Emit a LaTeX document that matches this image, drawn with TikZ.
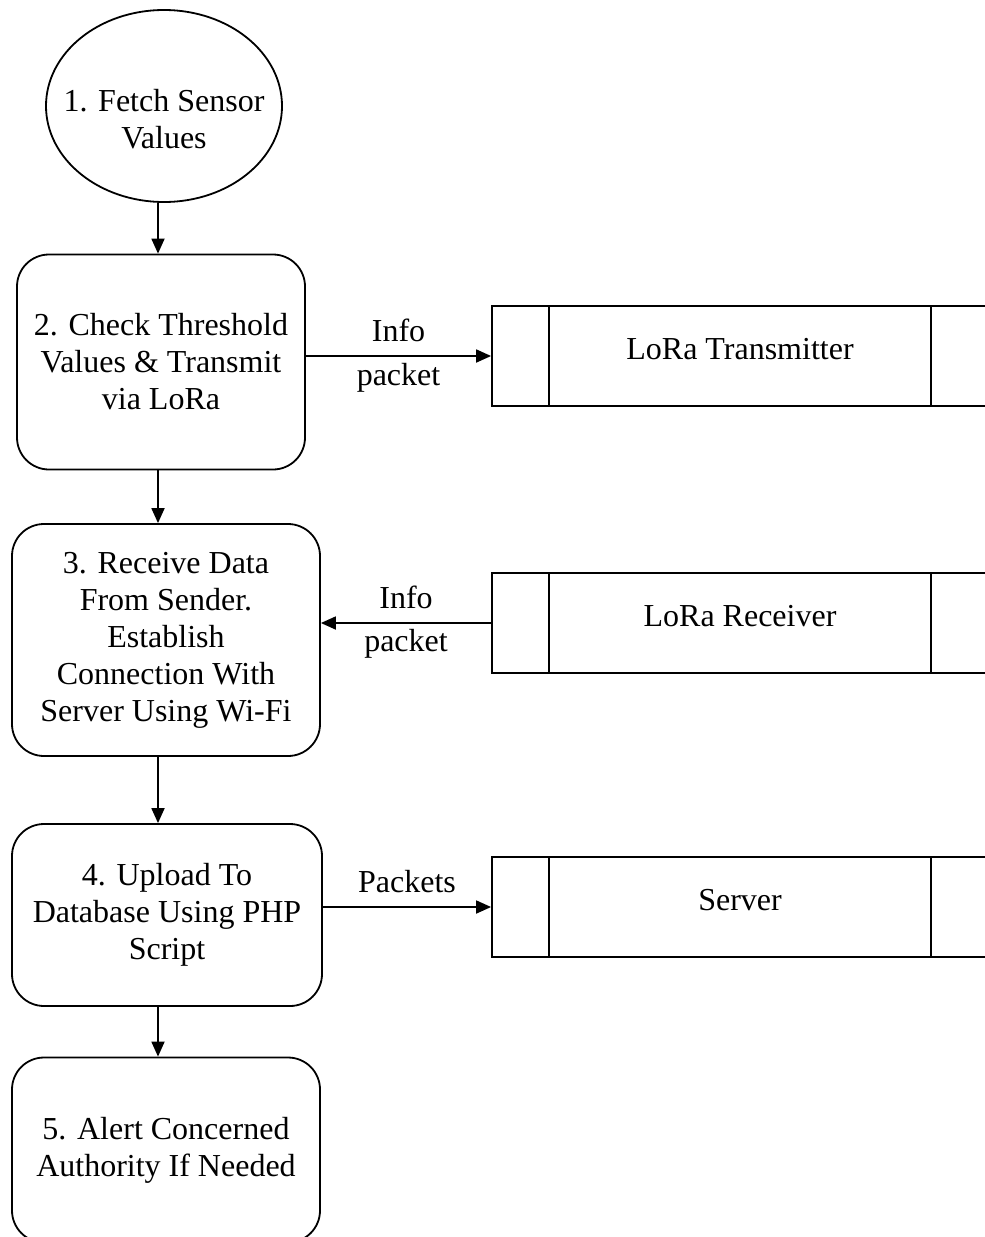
\documentclass[tikz,border=0pt]{standalone}
\usepackage{fontspec}
\setmainfont{Liberation Serif}
\usetikzlibrary{arrows.meta, shapes.geometric}

\begin{document}
\begin{tikzpicture}[
  x=1pt, y=-1pt,
  font=\fontsize{32}{37}\selectfont,
  startnode/.style={ellipse, draw, line width=1.8pt, minimum width=236pt, minimum height=192pt, inner xsep=-18pt, inner ysep=0pt, text height=86pt, align=center},
  stage/.style={rectangle, draw, line width=1.8pt, rounded corners=32pt, align=center},
  device/.style={rectangle, draw, line width=1.8pt, minimum width=496pt, minimum height=100pt, text depth=14pt},
  arrow/.style={line width=1.8pt, -{Triangle[length=15pt, width=13pt]}}
  ]

  \path[use as bounding box, clip] (0,0) rectangle (985,1237);

  % Steps of the flow on the left
  \node[startnode] (fetch) at (164,106) {1. Fetch Sensor\\Values};
  \node[stage, minimum width=288pt, minimum height=215pt] (check) at (161,362) {2. Check Threshold\\Values \& Transmit\\via LoRa};
  \node[stage, minimum width=308pt, minimum height=232pt] (receive) at (166,640) {3. Receive Data\\From Sender.\\Establish\\Connection With\\Server Using Wi-Fi};
  \node[stage, minimum width=310pt, minimum height=182pt] (upload) at (167,915) {4. Upload To\\Database Using PHP\\Script};
  \node[stage, minimum width=308pt, minimum height=185pt] (alert) at (166,1150) {5. Alert Concerned\\Authority If Needed};

  % Devices on the right
  \node[device] (tx) at (740,356) {LoRa Transmitter};
  \node[device] (rx) at (740,623) {LoRa Receiver};
  \node[device] (srv) at (740,907) {Server};

  \foreach \n in {tx,rx,srv} {
    \draw[line width=1.8pt] ([xshift=58pt]\n.north west) -- ([xshift=58pt]\n.south west);
    \draw[line width=1.8pt] ([xshift=-58pt]\n.north east) -- ([xshift=-58pt]\n.south east);
  }

  % Downward arrows between the steps
  \coordinate (spine) at (158,0);
  \draw[arrow] (spine |- fetch.south) -- (spine |- check.north);
  \draw[arrow] (spine |- check.south) -- (spine |- receive.north);
  \draw[arrow] (spine |- receive.south) -- (spine |- upload.north);
  \draw[arrow] (spine |- upload.south) -- (spine |- alert.north);

  % Links to the devices
  \draw[arrow] (check.east |- tx.west) -- node[above=10pt] {Info} node[below=3pt] {packet} (tx.west);
  \draw[arrow] (rx.west) -- node[above=10pt] {Info} node[below=2pt] {packet} (rx.west -| receive.east);
  \draw[arrow] (upload.east |- srv.west) -- node[above=10pt] {Packets} (srv.west);

\end{tikzpicture}
\end{document}
